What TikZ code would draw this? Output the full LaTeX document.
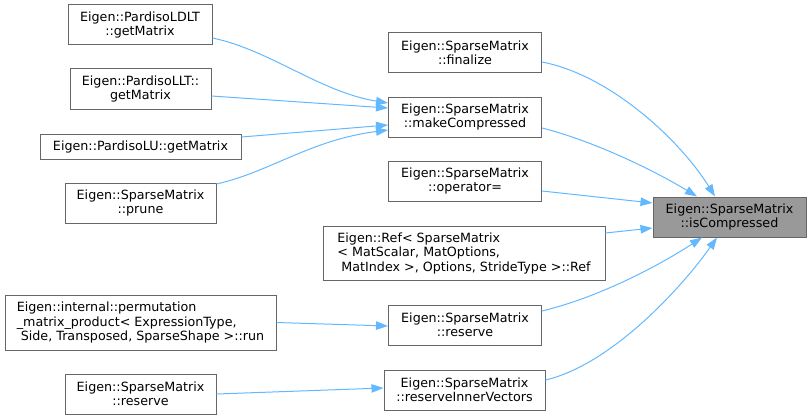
\documentclass[tikz,border=0pt]{standalone}
\usepackage{fontspec}
\setmainfont{DejaVu Sans}
\usetikzlibrary{arrows.meta}
\definecolor{edgeblue}{HTML}{63B8FF}
\definecolor{boxgray}{HTML}{666666}
\definecolor{hlfill}{HTML}{999999}
\tikzset{
  box/.style={draw=boxgray, line width=1pt, fill=white, inner sep=0pt, align=center,
    font=\fontsize{12.7}{14.5}\selectfont, text=black},
  hlbox/.style={box, fill=hlfill},
  leftbox/.style={box, align=left},
  edge/.style={draw=edgeblue, line width=1pt, -{Triangle[length=12pt,width=8.5pt]}},
}
\begin{document}
\begin{tikzpicture}[x=1pt,y=-1pt]
\useasboundingbox (0,0) rectangle (811,420);
% left column
\node[box, minimum width=144pt, minimum height=40pt] (ldlt) at (140,25) {Eigen::PardisoLDLT\\::getMatrix};
\node[box, minimum width=141pt, minimum height=40pt] (llt) at (140.5,89) {Eigen::PardisoLLT::\\getMatrix};
\node[box, minimum width=201pt, minimum height=25pt] (lu) at (140.5,146.5) {Eigen::PardisoLU::getMatrix};
\node[box, minimum width=151pt, minimum height=40pt] (prune) at (140.5,203) {Eigen::SparseMatrix\\::prune};
\node[leftbox, minimum width=271pt, minimum height=55pt] (perm) at (140.5,322.5) {Eigen::internal::permutation\\\_matrix\_product< ExpressionType,\\\mbox{}\ Side, Transposed, SparseShape >::run};
\node[box, minimum width=151pt, minimum height=40pt] (resl) at (140.5,394) {Eigen::SparseMatrix\\::reserve};
% middle column
\node[box, minimum width=153pt, minimum height=40pt] (fin) at (465,53) {Eigen::SparseMatrix\\::finalize};
\node[box, minimum width=153pt, minimum height=40pt] (mc) at (465,117) {Eigen::SparseMatrix\\::makeCompressed};
\node[box, minimum width=153pt, minimum height=40pt] (op) at (465,181) {Eigen::SparseMatrix\\::operator=};
\node[leftbox, minimum width=282pt, minimum height=54pt] (ref) at (464,253) {Eigen::Ref< SparseMatrix\\< MatScalar, MatOptions,\\\mbox{}\ MatIndex >, Options, StrideType >::Ref};
\node[box, minimum width=153pt, minimum height=40pt] (res) at (465,325) {Eigen::SparseMatrix\\::reserve};
\node[box, minimum width=161pt, minimum height=40pt] (riv) at (464.5,390) {Eigen::SparseMatrix\\::reserveInnerVectors};
% right
\node[hlbox, minimum width=153pt, minimum height=40pt] (isc) at (729.5,217) {Eigen::SparseMatrix\\::isCompressed};
% edges into makeCompressed
\draw[edge] ([yshift=-13pt]ldlt.east) .. controls (270,50) and (320,92) .. ([yshift=14pt]mc.west);
\draw[edge] ([yshift=-7pt]llt.east) -- ([yshift=9pt]mc.west);
\draw[edge] ([yshift=9.5pt]lu.east) -- ([yshift=-8pt]mc.west);
\draw[edge] ([yshift=19pt]prune.east) .. controls (270,172) and (310,140) .. ([yshift=-13pt]mc.west);
% edges into isCompressed
\draw[edge] ([yshift=-9pt]fin.east) .. controls (610,75) and (680,140) .. ([xshift=-14.5pt]isc.north);
\draw[edge] ([yshift=-11pt]mc.east) .. controls (590,140) and (650,168) .. ([xshift=-32.5pt]isc.north);
\draw[edge] ([yshift=-10pt]op.east) -- ([yshift=14pt]isc.west);
\draw[edge] ([yshift=20pt]ref.east) -- ([yshift=-11pt]isc.west);
\draw[edge] ([yshift=14pt]res.east) .. controls (600,297) and (660,265) .. ([xshift=-27.5pt]isc.south);
\draw[edge] ([yshift=10pt]riv.east) .. controls (610,365) and (680,290) .. ([xshift=-12.5pt]isc.south);
% lower edges
\draw[edge] (perm.east) -- ([yshift=-1pt]res.west);
\draw[edge] (resl.east) -- ([yshift=2pt]riv.west);
\end{tikzpicture}
\end{document}
